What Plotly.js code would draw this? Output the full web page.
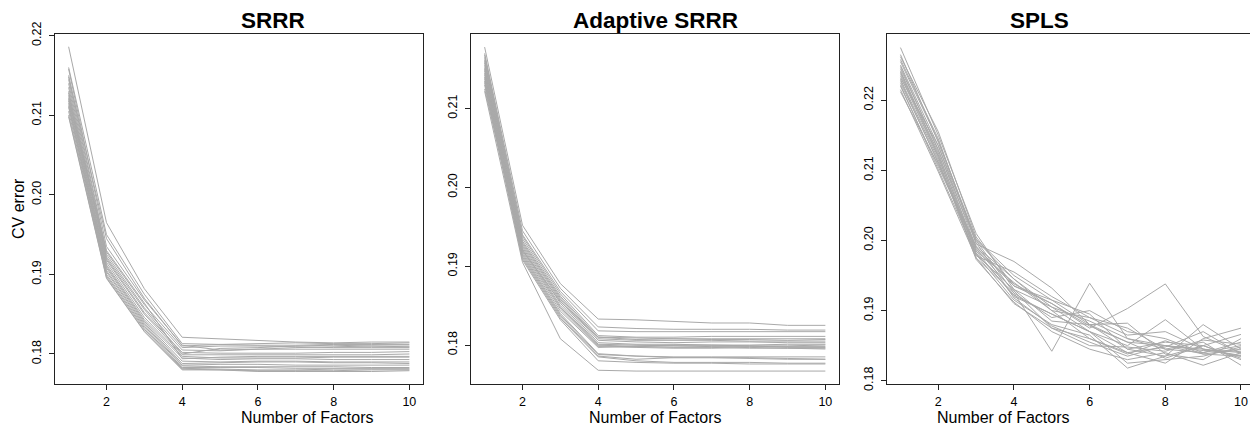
<!DOCTYPE html>
<html>
<head>
<meta charset="utf-8">
<script src="https://cdn.plot.ly/plotly-3.0.1.min.js"></script>
<style>html,body{margin:0;padding:0;background:#fff;}#chart{width:1250px;height:427px;}</style>
</head>
<body>
<div id="chart"></div>
<script>
const factors = [1,2,3,4,5,6,7,8,9,10];
const panelTitles = ["SRRR", "Adaptive SRRR", "SPLS"];
const xTitle = "Number of Factors";
const yTitle = "CV error";
const xTickVals = [2,4,6,8,10];
const yTickVals1 = [0.18,0.19,0.20,0.21,0.22];
const yTickVals2 = [0.18,0.19,0.20,0.21];
const yTickVals3 = [0.18,0.19,0.20,0.21,0.22];

const srrr = [
 [0.2186,0.1965,0.1882,0.1821,0.1819,0.1817,0.1815,0.1814,0.1815,0.1815],
 [0.2160,0.1950,0.1875,0.1813,0.1812,0.1811,0.1811,0.1812,0.1812,0.1812],
 [0.2158,0.1935,0.1868,0.1811,0.1805,0.1806,0.1808,0.1809,0.1810,0.1810],
 [0.2150,0.1928,0.1862,0.1808,0.1810,0.1810,0.1809,0.1808,0.1808,0.1808],
 [0.2145,0.1925,0.1858,0.1805,0.1804,0.1806,0.1806,0.1806,0.1806,0.1806],
 [0.2140,0.1920,0.1852,0.1802,0.1801,0.1801,0.1801,0.1802,0.1802,0.1803],
 [0.2135,0.1918,0.1850,0.1799,0.1799,0.1799,0.1799,0.1799,0.1799,0.1800],
 [0.2130,0.1915,0.1846,0.1797,0.1795,0.1795,0.1795,0.1796,0.1796,0.1796],
 [0.2125,0.1912,0.1843,0.1795,0.1793,0.1794,0.1794,0.1793,0.1793,0.1793],
 [0.2122,0.1910,0.1841,0.1791,0.1790,0.1791,0.1791,0.1790,0.1790,0.1790],
 [0.2118,0.1908,0.1839,0.1788,0.1789,0.1790,0.1790,0.1789,0.1789,0.1788],
 [0.2115,0.1905,0.1837,0.1786,0.1787,0.1787,0.1786,0.1786,0.1786,0.1786],
 [0.2112,0.1903,0.1835,0.1785,0.1784,0.1784,0.1784,0.1784,0.1783,0.1783],
 [0.2110,0.1900,0.1833,0.1783,0.1783,0.1783,0.1782,0.1782,0.1782,0.1782],
 [0.2105,0.1898,0.1831,0.1782,0.1781,0.1780,0.1780,0.1781,0.1781,0.1781],
 [0.2100,0.1896,0.1829,0.1781,0.1780,0.1779,0.1779,0.1779,0.1780,0.1780],
 [0.2098,0.1895,0.1828,0.1780,0.1780,0.1778,0.1778,0.1778,0.1778,0.1779],
 [0.2128,0.1922,0.1856,0.1800,0.1807,0.1808,0.1810,0.1811,0.1810,0.1809],
 [0.2148,0.1945,0.1870,0.1810,0.1812,0.1813,0.1814,0.1813,0.1813,0.1814],
 [0.2120,0.1930,0.1864,0.1794,0.1796,0.1797,0.1797,0.1797,0.1797,0.1797]
];

const adaptive = [
 [0.2178,0.1952,0.1878,0.1833,0.1832,0.1830,0.1828,0.1828,0.1825,0.1825],
 [0.2170,0.1945,0.1872,0.1823,0.1821,0.1820,0.1820,0.1820,0.1819,0.1819],
 [0.2168,0.1940,0.1868,0.1818,0.1817,0.1817,0.1817,0.1817,0.1817,0.1817],
 [0.2165,0.1938,0.1865,0.1812,0.1810,0.1810,0.1811,0.1811,0.1811,0.1811],
 [0.2162,0.1935,0.1862,0.1810,0.1809,0.1808,0.1808,0.1808,0.1808,0.1808],
 [0.2160,0.1932,0.1860,0.1808,0.1806,0.1806,0.1806,0.1805,0.1805,0.1805],
 [0.2158,0.1930,0.1858,0.1806,0.1804,0.1803,0.1804,0.1804,0.1803,0.1803],
 [0.2155,0.1928,0.1856,0.1803,0.1801,0.1801,0.1800,0.1800,0.1801,0.1801],
 [0.2152,0.1926,0.1853,0.1801,0.1800,0.1799,0.1798,0.1798,0.1798,0.1798],
 [0.2150,0.1924,0.1850,0.1800,0.1798,0.1797,0.1797,0.1796,0.1796,0.1795],
 [0.2148,0.1922,0.1848,0.1799,0.1798,0.1799,0.1799,0.1799,0.1797,0.1797],
 [0.2145,0.1920,0.1846,0.1798,0.1797,0.1796,0.1796,0.1797,0.1796,0.1796],
 [0.2143,0.1918,0.1843,0.1797,0.1799,0.1800,0.1800,0.1799,0.1799,0.1800],
 [0.2140,0.1916,0.1840,0.1789,0.1786,0.1785,0.1785,0.1785,0.1785,0.1785],
 [0.2138,0.1914,0.1838,0.1788,0.1786,0.1784,0.1784,0.1783,0.1782,0.1782],
 [0.2135,0.1912,0.1836,0.1786,0.1782,0.1784,0.1784,0.1784,0.1783,0.1782],
 [0.2133,0.1910,0.1834,0.1785,0.1780,0.1778,0.1778,0.1778,0.1777,0.1777],
 [0.2130,0.1908,0.1832,0.1780,0.1778,0.1777,0.1777,0.1776,0.1776,0.1776],
 [0.2122,0.1905,0.1808,0.1768,0.1767,0.1767,0.1767,0.1767,0.1767,0.1767],
 [0.2125,0.1920,0.1855,0.1810,0.1807,0.1808,0.1807,0.1807,0.1806,0.1807]
];

const spls = [
 [0.2275,0.2150,0.2010,0.1930,0.1905,0.1885,0.1860,0.1850,0.1845,0.1840],
 [0.2265,0.2140,0.2000,0.1925,0.1842,0.1939,0.1860,0.1845,0.1840,0.1850],
 [0.2258,0.2145,0.1995,0.1970,0.1932,0.1880,0.1855,0.1850,0.1838,0.1845],
 [0.2250,0.2135,0.1990,0.1935,0.1910,0.1875,0.1903,0.1938,0.1863,0.1840],
 [0.2245,0.2130,0.1985,0.1920,0.1895,0.1870,0.1850,0.1887,0.1845,0.1835],
 [0.2240,0.2125,0.1980,0.1915,0.1880,0.1865,0.1818,0.1835,0.1880,0.1845],
 [0.2238,0.2120,0.1975,0.1910,0.1875,0.1860,0.1840,0.1825,0.1860,0.1875],
 [0.2230,0.2115,0.1973,0.1912,0.1870,0.1845,0.1830,0.1840,0.1822,0.1840],
 [0.2228,0.2110,0.1985,0.1940,0.1900,0.1890,0.1875,0.1845,0.1855,0.1822],
 [0.2222,0.2100,0.1980,0.1930,0.1885,0.1880,0.1845,0.1855,0.1850,0.1830],
 [0.2215,0.2098,0.1975,0.1925,0.1890,0.1900,0.1870,0.1860,0.1840,0.1855],
 [0.2212,0.2108,0.1992,0.1945,0.1905,0.1870,0.1840,0.1848,0.1870,0.1838],
 [0.2262,0.2155,0.2005,0.1935,0.1915,0.1895,0.1845,0.1835,0.1850,0.1832],
 [0.2255,0.2142,0.2002,0.1950,0.1915,0.1880,0.1882,0.1838,0.1830,0.1860],
 [0.2248,0.2128,0.1997,0.1918,0.1878,0.1855,0.1835,0.1850,0.1843,0.1842],
 [0.2242,0.2122,0.1988,0.1928,0.1875,0.1850,0.1848,0.1842,0.1858,0.1852],
 [0.2235,0.2118,0.1982,0.1922,0.1895,0.1870,0.1825,0.1830,0.1835,0.1848],
 [0.2225,0.2112,0.1978,0.1955,0.1920,0.1890,0.1865,0.1870,0.1845,0.1836],
 [0.2220,0.2105,0.1990,0.1938,0.1910,0.1878,0.1855,0.1832,0.1850,0.1866],
 [0.2232,0.2135,0.2000,0.1945,0.1900,0.1860,0.1838,0.1857,0.1838,0.1835]
];

const lineColor = "#A9A9A9";
const traces = [];
function addPanel(data, xa, ya) {
  data.forEach(function(vals){
    traces.push({x: factors, y: vals, type: "scatter", mode: "lines",
      xaxis: xa, yaxis: ya, showlegend: false, hoverinfo: "skip",
      line: {color: lineColor, width: 1}});
  });
}
addPanel(srrr, "x", "y");
addPanel(adaptive, "x2", "y2");
addPanel(spls, "x3", "y3");

const W = 1250;
const font = {family: "Liberation Sans, Arial, sans-serif", color: "#000"};
function xaxisDef(d0, d1, anchor, range) {
  return {domain: [d0/W, d1/W], anchor: anchor, range: range,
    tickvals: xTickVals, ticktext: xTickVals.map(String),
    ticks: "outside", ticklen: 5, tickcolor: "#222", tickwidth: 1,
    ticklabelstandoff: 1,
    showline: true, linecolor: "#222", linewidth: 1, mirror: true,
    showgrid: false, zeroline: false, fixedrange: true,
    tickfont: {family: font.family, size: 12.5, color: "#000"}};
}
function yaxisDef(anchor, range, ticks, mirror) {
  return {domain: [0, 1], anchor: anchor, range: range,
    tickvals: ticks, ticktext: ticks.map(function(v){return v.toFixed(2);}),
    tickangle: -90, ticks: "outside", ticklen: 5, tickcolor: "#222", tickwidth: 1,
    ticklabelstandoff: 3,
    showline: true, linecolor: "#222", linewidth: 1, mirror: mirror,
    showgrid: false, zeroline: false, fixedrange: true,
    tickfont: {family: font.family, size: 12.5, color: "#000"}};
}

const titleFont = {family: font.family, size: 22.5, color: "#000"};
const axTitleFont = {family: font.family, size: 16, color: "#000"};
const layout = {
  width: 1250, height: 427,
  margin: {l: 0, r: 0, t: 34, b: 43},
  paper_bgcolor: "#fff", plot_bgcolor: "#fff",
  showlegend: false,
  xaxis: xaxisDef(55, 423, "y", [0.64, 10.36]),
  yaxis: yaxisDef("x", [0.17623, 0.2202], yTickVals1, true),
  xaxis2: xaxisDef(471, 839, "y2", [0.64, 10.36]),
  yaxis2: yaxisDef("x2", [0.17506, 0.21946], yTickVals2, true),
  xaxis3: xaxisDef(887, 1250, "y3", [0.644, 10.238]),
  yaxis3: yaxisDef("x3", [0.17953, 0.22944], yTickVals3, false),
  annotations: [
    {text: "<b>" + panelTitles[0] + "</b>", xref: "paper", yref: "paper", x: 239/W, y: 1, yshift: 14, yanchor: "middle", showarrow: false, font: titleFont},
    {text: "<b>" + panelTitles[1] + "</b>", xref: "paper", yref: "paper", x: 655/W, y: 1, yshift: 14, yanchor: "middle", showarrow: false, font: titleFont},
    {text: "<b>" + panelTitles[2] + "</b>", xref: "paper", yref: "paper", x: 1071/W, y: 1, yshift: 14, yanchor: "middle", showarrow: false, font: titleFont},
    {text: xTitle, xref: "paper", yref: "paper", x: 239/W, y: 0, yshift: -33, yanchor: "middle", showarrow: false, font: axTitleFont},
    {text: xTitle, xref: "paper", yref: "paper", x: 655/W, y: 0, yshift: -33, yanchor: "middle", showarrow: false, font: axTitleFont},
    {text: xTitle, xref: "paper", yref: "paper", x: 1071/W, y: 0, yshift: -33, yanchor: "middle", showarrow: false, font: axTitleFont},
    {text: yTitle, xref: "paper", yref: "paper", x: 18/W, y: 0.5, xanchor: "center", yanchor: "middle", textangle: -90, showarrow: false, font: axTitleFont}
  ]
};

Plotly.newPlot("chart", traces, layout, {displayModeBar: false, staticPlot: true});
</script>
</body>
</html>
